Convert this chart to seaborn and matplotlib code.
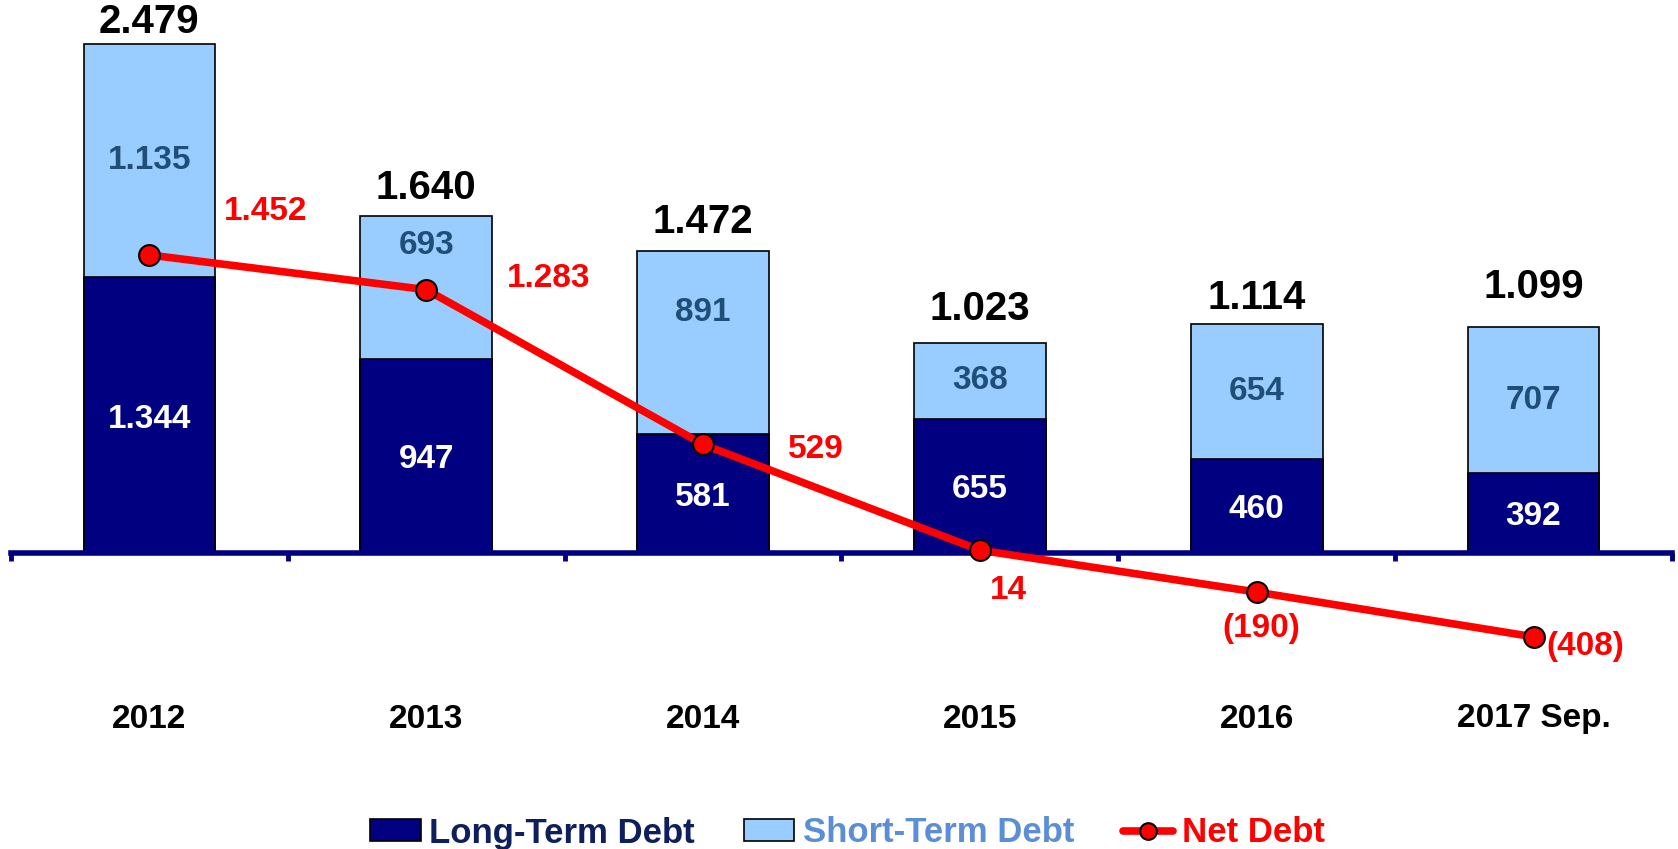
import numpy as np
import pandas as pd
import matplotlib.pyplot as plt
import seaborn as sns
from matplotlib.patches import Patch
from matplotlib.lines import Line2D
import matplotlib.transforms as mtransforms

# Data (millions, European number format)
years = ['2012', '2013', '2014', '2015', '2016', '2017 Sep.']
long_term = [1344, 947, 581, 655, 460, 392]
short_term = [1135, 693, 891, 368, 654, 707]
net_debt = [1452, 1283, 529, 14, -190, -408]

# Colours
NAVY = '#000080'
LIGHT = '#99CCFF'
ST_TEXT = '#1F4E79'
RED = '#FF0000'

def fmt(v):
    s = f"{abs(v):,}".replace(',', '.')
    return f"({s})" if v < 0 else s

df = pd.DataFrame({'year': years, 'long': long_term, 'short': short_term})
df['total'] = df['long'] + df['short']

sns.set_style('white')
plt.rcParams['font.family'] = ['Liberation Sans', 'DejaVu Sans']
plt.rcParams['font.weight'] = 'bold'

fig = plt.figure(figsize=(16.78, 8.49), dpi=100)
ax = fig.add_axes([11 / 1678, (849 - 760) / 849, (1672 - 11) / 1678, 760 / 849])

# stacked bars: total in light blue, long-term overlaid in navy
sns.barplot(data=df, x='year', y='total', color=LIGHT, saturation=1, width=0.476,
            edgecolor='black', linewidth=1.2, errorbar=None, ax=ax, zorder=2)
sns.barplot(data=df, x='year', y='long', color=NAVY, saturation=1, width=0.476,
            edgecolor='black', linewidth=1.2, errorbar=None, ax=ax, zorder=3)

x = np.arange(len(years))

# net debt line
ax.plot(x, net_debt, color=RED, lw=5.5, marker='o', markersize=15,
        markerfacecolor=RED, markeredgecolor='black', markeredgewidth=1.5, zorder=6)

# label offsets in pixels (hand placed like the original)
short_offsets = [0, 42, 30, 0, 0, 0]
total_offsets = [22, 28, 29, 34, 26, 40]
net_offsets = [(116, 43), (122, 11), (113, -5), (28, -40), (5, -36), (52, -10)]

for i, row in df.iterrows():
    ax.annotate(fmt(row['long']), (i, row['long'] / 2), xytext=(0, -4), textcoords='offset pixels',
                ha='center', va='center', color='white', fontsize=24, fontweight='bold', zorder=7)
    ax.annotate(fmt(row['short']), (i, row['long'] + row['short'] / 2),
                xytext=(0, short_offsets[i]), textcoords='offset pixels',
                ha='center', va='center', color=ST_TEXT, fontsize=24, fontweight='bold', zorder=7)
    ax.annotate(fmt(row['total']), (i, row['total']), xytext=(0, total_offsets[i]),
                textcoords='offset pixels', ha='center', va='center',
                color='black', fontsize=29, fontweight='bold')

for i, (v, off) in enumerate(zip(net_debt, net_offsets)):
    ax.annotate(fmt(v), (i, v), xytext=off, textcoords='offset pixels',
                ha='center', va='center', color=RED, fontsize=24, fontweight='bold', zorder=8)

# axes styling
ax.set_xlim(-0.5, len(years) - 0.5)
ax.set_ylim(-1008, 2694)
for s in ['top', 'right', 'left']:
    ax.spines[s].set_visible(False)
ax.spines['bottom'].set_position(('data', 0))
ax.spines['bottom'].set_color(NAVY)
ax.spines['bottom'].set_linewidth(4)
ax.spines['bottom'].set_zorder(5)
ax.set_yticks([])
ax.set_xticks(np.arange(-0.5, len(years)), labels=[''] * (len(years) + 1))
ax.tick_params(axis='x', which='major', bottom=True, direction='out',
               length=6, width=3.5, color=NAVY)
ax.set_xlabel('')
ax.set_ylabel('')

# category labels below the chart
trans = mtransforms.blended_transform_factory(ax.transData, fig.transFigure)
for i, yr in enumerate(years):
    ax.text(i, 1 - 719 / 849, yr, transform=trans, ha='center', va='center',
            fontsize=24, fontweight='bold', color='black')

# legend
handles = [
    Patch(facecolor=NAVY, edgecolor='black', linewidth=1.2),
    Patch(facecolor=LIGHT, edgecolor='black', linewidth=1.2),
    Line2D([0], [0], color=RED, lw=5.5, marker='o', markersize=12,
           markerfacecolor=RED, markeredgecolor='black', markeredgewidth=1.5),
]
leg = fig.legend(handles, ['Long-Term Debt', 'Short-Term Debt', 'Net Debt'],
                 loc='center', bbox_to_anchor=(0.505, 16 / 849), ncol=3, frameon=False,
                 prop={'size': 25, 'weight': 'bold'}, handlelength=1.45, handleheight=0.6,
                 handletextpad=0.25, columnspacing=1.4, borderpad=0)
for t, c in zip(leg.get_texts(), ['#0D1F5C', '#5B8ED6', RED]):
    t.set_color(c)

plt.savefig('out.png', dpi=100)
